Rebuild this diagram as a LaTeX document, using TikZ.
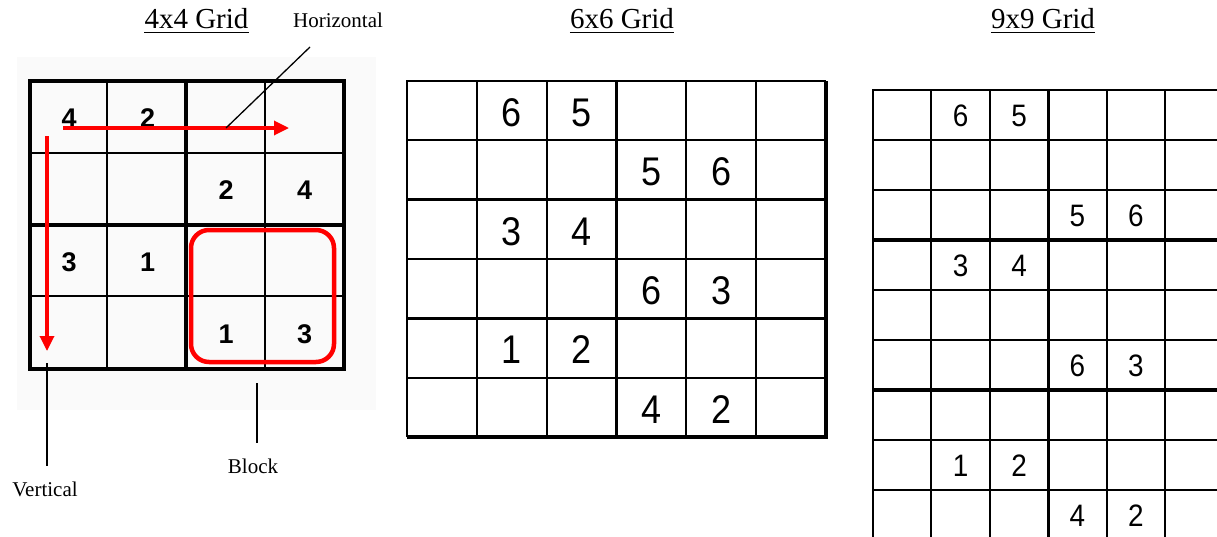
\documentclass[tikz,border=0pt]{standalone}
\usepackage{fontspec}
\setmainfont{Liberation Serif}
\newfontfamily\digitfont{Liberation Sans}
\newfontfamily\narrowdigits[FakeStretch=0.9]{Liberation Sans}
\usetikzlibrary{arrows.meta}

\begin{document}
\begin{tikzpicture}[x=1pt, y=-1pt, >={Triangle[length=15pt,width=14pt]},
    title/.style={font=\fontsize{29}{34}\selectfont, inner sep=0pt, anchor=base},
    tag/.style={font=\fontsize{21}{25}\selectfont, inner sep=0pt, anchor=base},
    boldnum/.style={font=\digitfont\bfseries\fontsize{27}{31}\selectfont, inner sep=0pt},
    bignum/.style={font=\narrowdigits\fontsize{40}{46}\selectfont, inner sep=0pt},
    smallnum/.style={font=\narrowdigits\fontsize{31}{36}\selectfont, inner sep=0pt},
    redline/.style={draw=red, line width=3.3pt},
    leader/.style={draw=black, line width=1.3pt}]
    \useasboundingbox (0,0) rectangle (1217,536);
    \clip (0,0) rectangle (1217,536);

    \node[title] (t4) at (196.5,28) {4x4 Grid};
    \node[title] (t6) at (622,28) {6x6 Grid};
    \node[title] (t9) at (1043,28) {9x9 Grid};
    \foreach \t in {t4,t6,t9}
        \draw[line width=1.8pt] ([yshift=-4pt]\t.south west) -- ([yshift=-4pt]\t.south east);

    \fill[black!2] (17,57) rectangle (376,410);
    \foreach \x in {107,265} \draw[line width=2.7pt] (\x,81) -- (\x,369);
    \foreach \y in {153,296} \draw[line width=2.7pt] (30,\y) -- (344,\y);
    \draw[line width=4pt] (186,81) -- (186,369) (30,225) -- (344,225);
    \draw[line width=4.5pt] (30,81) rectangle (344,369);
    \foreach \r/\c/\v in {1/1/4,1/2/2,2/3/2,2/4/4,3/1/3,3/2/1,4/3/1,4/4/3}
        \node[boldnum] (a\r\c) at ({30+78.5*(\c-0.5)},{82+72*(\r-0.5)}) {\v};

    \node[draw=red, line width=4.5pt, rounded corners=18pt, inner sep=0pt,
        minimum width=143pt, minimum height=132pt] (blk) at (262.5,296) {};
    \coordinate (hstart) at (63,128);
    \coordinate (hend) at (289,128);
    \coordinate (vstart) at (47,136);
    \coordinate (vend) at (47,351);
    \path[->] (hstart) edge[redline] (hend);
    \path[->] (vstart) edge[redline] (vend);

    \node[tag] (hlab) at (338,27) {Horizontal};
    \node[tag] (vlab) at (45,496) {Vertical};
    \node[tag] (blab) at (253,473) {Block};
    \coordinate (hfoot) at (310,47);
    \coordinate (hpt) at (226,128);
    \coordinate (vtop) at (47,363);
    \coordinate (btop) at (257,383);
    \path (hpt) edge[leader] (hfoot);
    \path (vtop) edge[leader, shorten >=15.7pt] (vtop |- vlab.north);
    \path (btop) edge[leader, shorten >=15.7pt] (btop |- blab.north);

    \foreach \k in {1,2,4,5} \draw[line width=2.3pt] ({407+69.83*\k},81) -- ++(0,356);
    \foreach \k in {1,3,5} \draw[line width=2.3pt] (407,{81+59.33*\k}) -- ++(419,0);
    \draw[line width=2.3pt] (407,437) -- (407,81) -- (826,81);
    \draw[line width=3.5pt] (616.5,81) -- (616.5,437) (407,199.7) -- (826,199.7) (407,318.3) -- (826,318.3);
    \draw[line width=3.5pt] (826,81) -- (826,437) -- (407,437);
    \foreach \r/\c/\v in {1/2/6,1/3/5,2/4/5,2/5/6,3/2/3,3/3/4,4/4/6,4/5/3,5/2/1,5/3/2,6/4/4,6/5/2}
        \node[bignum] (b\r\c) at ({407+69.83*(\c-0.5)},{83+59.33*(\r-0.5)}) {\v};

    \foreach \k in {1,2,4,5} \draw[line width=2pt] ({873+58.4*\k},90) -- ++(0,460);
    \foreach \k in {1,2,4,5,7,8} \draw[line width=2pt] (873,{90+50*\k}) -- (1230,{90+50*\k});
    \draw[line width=2pt] (873,550) -- (873,90) -- (1230,90);
    \draw[line width=3.3pt] (1048.2,90) -- (1048.2,550) (873,240) -- (1230,240) (873,390) -- (1230,390);
    \foreach \r/\c/\v in {1/2/6,1/3/5,3/4/5,3/5/6,4/2/3,4/3/4,6/4/6,6/5/3,8/2/1,8/3/2,9/4/4,9/5/2}
        \node[smallnum] (c\r\c) at ({873+58.4*(\c-0.5)},{91+50*(\r-0.5)}) {\v};
\end{tikzpicture}
\end{document}
